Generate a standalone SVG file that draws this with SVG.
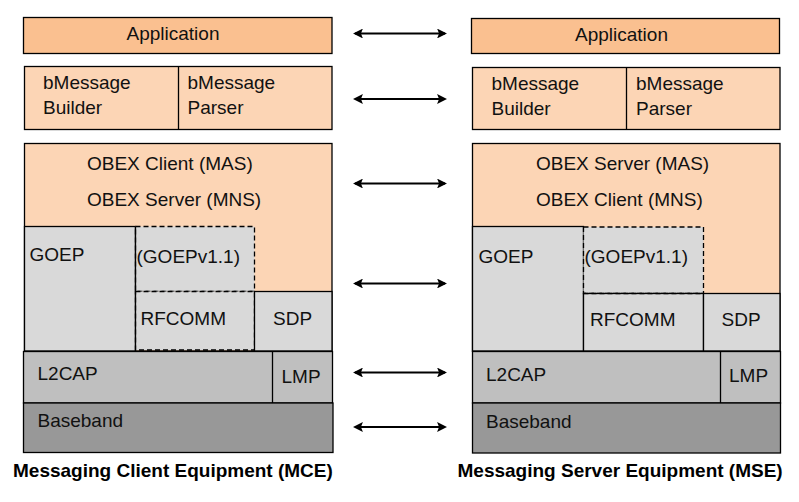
<svg xmlns="http://www.w3.org/2000/svg" width="799" height="502" viewBox="0 0 799 502">
<style>
  text { font-family: "Liberation Sans", Arial, sans-serif; font-size: 19px; fill: #111; }
  .title { font-weight: bold; fill: #000; }
  .app { fill: #FAC090; stroke: #000; stroke-width: 1.3; }
  .lo { fill: #FCD5B5; stroke: #000; stroke-width: 1.3; }
  .g1 { fill: #D9D9D9; stroke: #000; stroke-width: 1.3; }
  .g1d { fill: #D9D9D9; stroke: #000; stroke-width: 1.3; stroke-dasharray: 5 3; }
  .g2 { fill: #BFBFBF; stroke: #000; stroke-width: 1.3; }
  .g3 { fill: #989898; stroke: #000; stroke-width: 1.3; }
  .ln { stroke: #000; stroke-width: 1.3; fill: none; }
  .arr { stroke: #000; stroke-width: 2.2; fill: none; marker-start: url(#ah); marker-end: url(#ah); }
</style>
<defs>
  <marker id="ah" viewBox="0 0 10 10" refX="8" refY="5" markerWidth="4.5" markerHeight="4.5" orient="auto-start-reverse">
    <path d="M0,0 L10,5 L0,10 L2,5 Z" fill="#000"/>
  </marker>
</defs>
<rect width="799" height="502" fill="#fff"/>

<!-- Left side: MCE -->
<g id="mce-application">
  <rect class="app" x="23.5" y="17.5" width="308.5" height="36"/>
  <text x="173" y="40" text-anchor="middle">Application</text>
</g>
<g id="mce-bmessage">
  <rect class="lo" x="24.5" y="66.5" width="307.5" height="63"/>
  <line class="ln" x1="178.5" y1="66.5" x2="178.5" y2="129.5"/>
  <text x="43" y="88.5">bMessage</text>
  <text x="43" y="113.5">Builder</text>
  <text x="187.5" y="88.5">bMessage</text>
  <text x="187.5" y="113.5">Parser</text>
</g>
<g id="mce-obex">
  <rect class="lo" x="24.5" y="143.5" width="307.5" height="207.5"/>
  <text x="87" y="169.5">OBEX Client (MAS)</text>
  <text x="87" y="206">OBEX Server (MNS)</text>
</g>
<g id="mce-goep">
  <rect class="g1" x="24.5" y="226.5" width="111" height="124.5"/>
  <text x="29.5" y="261">GOEP</text>
</g>
<g id="mce-goepv11">
  <rect class="g1d" x="135.5" y="226.5" width="119" height="65"/>
  <text x="136.5" y="262.5">(GOEPv1.1)</text>
</g>
<g id="mce-rfcomm">
  <rect class="g1d" x="135.5" y="291.5" width="119" height="58.5"/>
  <line class="ln" x1="135.5" y1="226.5" x2="135.5" y2="351"/>
  <text x="140.5" y="325">RFCOMM</text>
</g>
<g id="mce-sdp">
  <rect class="g1" x="254.5" y="291.5" width="77.5" height="59.5"/>
  <text x="273" y="325">SDP</text>
</g>
<g id="mce-l2cap">
  <rect class="g2" x="23.5" y="351.5" width="309" height="51.5"/>
  <line class="ln" x1="272.5" y1="351.5" x2="272.5" y2="403"/>
  <text x="37.5" y="380">L2CAP</text>
  <text x="281.5" y="382.5">LMP</text>
</g>
<g id="mce-baseband">
  <rect class="g3" x="23.5" y="403" width="309.5" height="49.5"/>
  <text x="37.5" y="427">Baseband</text>
</g>
<text class="title" x="13" y="477" font-size="18.9">Messaging Client Equipment (MCE)</text>

<!-- Right side: MSE -->
<g id="mse-application">
  <rect class="app" x="471.5" y="18.5" width="308" height="35"/>
  <text x="621.5" y="40.5" text-anchor="middle">Application</text>
</g>
<g id="mse-bmessage">
  <rect class="lo" x="472.5" y="67.5" width="307.5" height="62"/>
  <line class="ln" x1="626.5" y1="67.5" x2="626.5" y2="129.5"/>
  <text x="491.5" y="90">bMessage</text>
  <text x="491.5" y="114.5">Builder</text>
  <text x="636" y="90">bMessage</text>
  <text x="636" y="114.5">Parser</text>
</g>
<g id="mse-obex">
  <rect class="lo" x="472.5" y="143.5" width="307.5" height="207.5"/>
  <text x="536" y="169.5">OBEX Server (MAS)</text>
  <text x="536" y="206">OBEX Client (MNS)</text>
</g>
<g id="mse-goep">
  <rect class="g1" x="472.5" y="226.5" width="111" height="124.5"/>
  <text x="478.5" y="262.5">GOEP</text>
</g>
<g id="mse-goepv11">
  <rect class="g1d" x="583.5" y="227" width="120" height="66.5"/>
  <text x="584.5" y="262.5">(GOEPv1.1)</text>
</g>
<g id="mse-rfcomm">
  <rect class="g1" x="583.5" y="293.5" width="120" height="57.5"/>
  <line class="g1d" x1="583.5" y1="293.5" x2="703.5" y2="293.5"/>
  <text x="590" y="325.5">RFCOMM</text>
</g>
<g id="mse-sdp">
  <rect class="g1" x="703.5" y="293.5" width="76.5" height="57.5"/>
  <text x="721.5" y="325.5">SDP</text>
</g>
<g id="mse-l2cap">
  <rect class="g2" x="472.5" y="351.5" width="308" height="51.5"/>
  <line class="ln" x1="720.5" y1="351.5" x2="720.5" y2="403"/>
  <text x="486" y="381">L2CAP</text>
  <text x="729" y="381.5">LMP</text>
</g>
<g id="mse-baseband">
  <rect class="g3" x="472.5" y="403" width="308" height="50"/>
  <text x="486" y="427.5">Baseband</text>
</g>
<text class="title" x="457.5" y="477">Messaging Server Equipment (MSE)</text>

<!-- Connectors -->
<g id="connectors">
  <line class="arr" x1="355" y1="33.5" x2="445" y2="33.5"/>
  <line class="arr" x1="355" y1="99" x2="445" y2="99"/>
  <line class="arr" x1="355" y1="183.5" x2="445" y2="183.5"/>
  <line class="arr" x1="355" y1="283.5" x2="445" y2="283.5"/>
  <line class="arr" x1="355" y1="372.5" x2="445" y2="372.5"/>
  <line class="arr" x1="355" y1="427" x2="445" y2="427"/>
</g>
</svg>
